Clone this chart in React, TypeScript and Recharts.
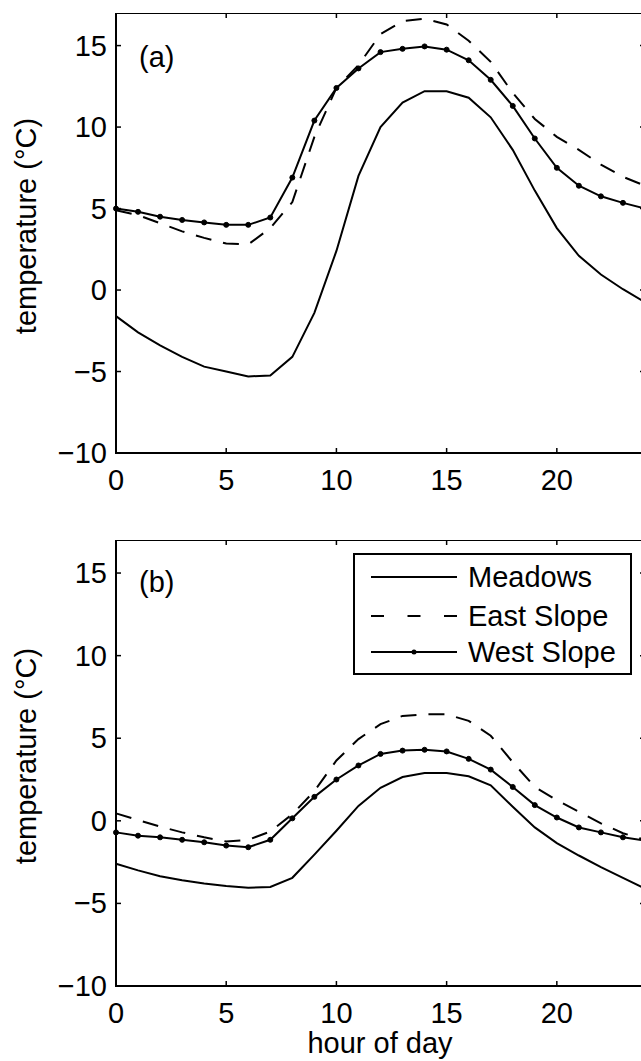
import React from 'react';
import { LineChart, Line, XAxis, YAxis, ReferenceArea, Legend, Label } from 'recharts';

const hours = [0, 1, 2, 3, 4, 5, 6, 7, 8, 9, 10, 11, 12, 13, 14, 15, 16, 17, 18, 19, 20, 21, 22, 23, 24];

// Panel (a)
const meadowsA = [-1.6, -2.6, -3.4, -4.1, -4.7, -5.0, -5.3, -5.25, -4.1, -1.4, 2.4, 7.0, 10.0, 11.5, 12.2, 12.2, 11.8, 10.6, 8.6, 6.1, 3.8, 2.1, 0.95, 0.05, -0.75];
const eastA = [4.9, 4.6, 4.1, 3.6, 3.2, 2.85, 2.8, 3.8, 5.4, 9.4, 12.4, 13.8, 15.7, 16.5, 16.65, 16.3, 15.3, 14.0, 12.1, 10.5, 9.4, 8.6, 7.7, 6.95, 6.4];
const westA = [5.0, 4.8, 4.5, 4.3, 4.15, 4.0, 4.0, 4.45, 6.9, 10.4, 12.4, 13.6, 14.6, 14.8, 14.95, 14.75, 14.1, 12.9, 11.3, 9.3, 7.5, 6.4, 5.75, 5.35, 5.0];

// Panel (b)
const meadowsB = [-2.6, -3.0, -3.35, -3.6, -3.8, -3.95, -4.05, -4.0, -3.45, -2.05, -0.6, 0.9, 2.0, 2.65, 2.9, 2.9, 2.7, 2.15, 0.85, -0.4, -1.35, -2.1, -2.8, -3.45, -4.1];
const eastB = [0.45, 0.05, -0.35, -0.7, -1.0, -1.25, -1.15, -0.65, 0.4, 1.8, 3.65, 4.95, 5.85, 6.35, 6.45, 6.45, 6.05, 5.15, 3.55, 2.05, 1.25, 0.55, -0.15, -0.75, -1.15];
const westB = [-0.7, -0.9, -1.0, -1.15, -1.3, -1.5, -1.6, -1.15, 0.15, 1.45, 2.5, 3.35, 4.05, 4.25, 4.3, 4.2, 3.75, 3.1, 2.05, 0.95, 0.2, -0.4, -0.7, -1.0, -1.2];

const xTicks = [0, 5, 10, 15, 20];
const yTicks = [-10, -5, 0, 5, 10, 15];
const xDomain = [0, 24];
const yDomain = [-10, 17];
const seriesNames = ['Meadows', 'East Slope', 'West Slope'];
const panelLabels = ['(a)', '(b)'];
const xTitle = 'hour of day';
const yTitle = 'temperature (\u00B0C)';

const FONT = '"Liberation Sans", Arial, Helvetica, sans-serif';
const FS = 29;
const TICK = 5;
const PLOT_RIGHT = 645;
const DASH = '16 12';

const buildData = (m: number[], e: number[], w: number[]) =>
  hours.map((h, i) => ({ hour: h, meadows: m[i], east: e[i], west: w[i] }));

const dataA = buildData(meadowsA, eastA, westA);
const dataB = buildData(meadowsB, eastB, westB);

const fmt = (v: number) => (v < 0 ? '\u2212' + Math.abs(v) : String(v));

const makeXTick = (top: number) => (props: any) => {
  const { x, y, payload } = props;
  return (
    <g>
      <line x1={x} x2={x} y1={y} y2={y - TICK} stroke="#000" strokeWidth={1.5} />
      <line x1={x} x2={x} y1={top} y2={top + TICK} stroke="#000" strokeWidth={1.5} />
      <text x={x} y={y + 37} textAnchor="middle" fontSize={FS} fontFamily={FONT} fill="#000">
        {fmt(payload.value)}
      </text>
    </g>
  );
};

const yTick = (props: any) => {
  const { x, y, payload } = props;
  return (
    <g>
      <line x1={x} x2={x + TICK} y1={y} y2={y} stroke="#000" strokeWidth={1.5} />
      <line x1={PLOT_RIGHT - TICK} x2={PLOT_RIGHT} y1={y} y2={y} stroke="#000" strokeWidth={1.5} />
      <text x={x - 9} y={y + 10} textAnchor="end" fontSize={FS} fontFamily={FONT} fill="#000">
        {fmt(payload.value)}
      </text>
    </g>
  );
};

const yLabel = (cy: number) => () => (
  <text
    transform={`translate(36, ${cy}) rotate(-90)`}
    textAnchor="middle"
    fontSize={FS}
    fontFamily={FONT}
    fill="#000"
  >
    {yTitle}
  </text>
);

const panelLabel = (txt: string, by: number) => () => (
  <text x={139} y={by} fontSize={FS} fontFamily={FONT} fill="#000">
    {txt}
  </text>
);

const xLabel = () => (
  <text x={380} y={513} textAnchor="middle" fontSize={FS} fontFamily={FONT} fill="#000">
    {xTitle}
  </text>
);

const renderLegend = () => (
  <svg width={280} height={123} style={{ display: 'block' }}>
    <rect x={1} y={1} width={277} height={120} fill="#fff" stroke="#000" strokeWidth={2} />
    <line x1={18} x2={104} y1={24} y2={24} stroke="#000" strokeWidth={2} />
    <line x1={18} x2={104} y1={63} y2={63} stroke="#000" strokeWidth={2} strokeDasharray="13 23.5" />
    <line x1={18} x2={104} y1={99} y2={99} stroke="#000" strokeWidth={2} />
    <circle cx={61} cy={99} r={2.5} fill="#000" />
    <text x={115} y={34} fontSize={FS} fontFamily={FONT} fill="#000">{seriesNames[0]}</text>
    <text x={115} y={73} fontSize={FS} fontFamily={FONT} fill="#000">{seriesNames[1]}</text>
    <text x={115} y={109} fontSize={FS} fontFamily={FONT} fill="#000">{seriesNames[2]}</text>
  </svg>
);

const Panel = ({ data, top, height, xAxisHeight, labelY, letter, letterY, withLegend, withXLabel }: any) => (
  <div style={{ position: 'absolute', left: 0, top }}>
    <LineChart width={680} height={height} data={data} margin={{ top: 0, right: 35, bottom: 0, left: 0 }}>
      <XAxis
        dataKey="hour"
        type="number"
        domain={xDomain}
        ticks={xTicks}
        interval={0}
        tickLine={false}
        axisLine={false}
        tickSize={0}
        tickMargin={0}
        height={xAxisHeight}
        tick={makeXTick(0)}
      >
        {withXLabel ? <Label content={xLabel} /> : null}
      </XAxis>
      <YAxis
        type="number"
        domain={yDomain}
        ticks={yTicks}
        interval={0}
        width={116}
        tickLine={false}
        axisLine={false}
        tickSize={0}
        tickMargin={0}
        tick={yTick}
      >
        <Label content={yLabel(labelY)} />
      </YAxis>
      <Line dataKey="meadows" name={seriesNames[0]} type="linear" stroke="#000" strokeWidth={2} dot={false} activeDot={false} isAnimationActive={false} />
      <Line dataKey="east" name={seriesNames[1]} type="linear" stroke="#000" strokeWidth={2} strokeDasharray={DASH} dot={false} activeDot={false} isAnimationActive={false} />
      <Line dataKey="west" name={seriesNames[2]} type="linear" stroke="#000" strokeWidth={2} dot={{ r: 2.5, fill: '#000', stroke: '#000', strokeWidth: 1 }} activeDot={false} isAnimationActive={false} />
      <ReferenceArea
        x1={xDomain[0]}
        x2={xDomain[1]}
        y1={yDomain[0]}
        y2={yDomain[1]}
        fill="none"
        fillOpacity={0}
        stroke="#000"
        strokeWidth={2}
        label={{ content: panelLabel(letter, letterY) } as any}
      />
      {withLegend ? (
        <Legend
          layout="vertical"
          align="center"
          verticalAlign="middle"
          content={renderLegend}
          wrapperStyle={{ position: 'absolute', left: 353, top: 13, width: 280, height: 123 }}
        />
      ) : null}
    </LineChart>
  </div>
);

export default function App() {
  return (
    <div
      style={{
        position: 'fixed',
        left: 0,
        top: 0,
        width: 641,
        height: 1061,
        overflow: 'hidden',
        background: '#fff',
      }}
    >
      <Panel data={dataA} top={13} height={487} xAxisHeight={47} labelY={213} letter={panelLabels[0]} letterY={54} withLegend={false} withXLabel={false} />
      <Panel data={dataB} top={540} height={520} xAxisHeight={74} labelY={216} letter={panelLabels[1]} letterY={52} withLegend={true} withXLabel={true} />
    </div>
  );
}
